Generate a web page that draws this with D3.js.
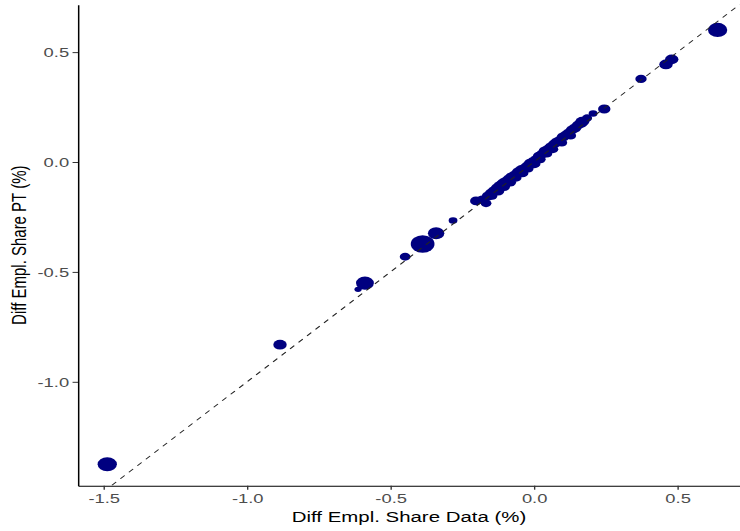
<!DOCTYPE html>
<html>
<head>
<meta charset="utf-8">
<script src="https://cdn.jsdelivr.net/npm/d3@7"></script>
<style>
  html, body { margin: 0; padding: 0; background: #ffffff; }
  svg { display: block; }
</style>
</head>
<body>
<div id="chart"></div>
<script>
// ---- data ----
const xVals = [
  0.640, 0.460, 0.480, 0.373, 0.245, 0.206,
  -0.202, -0.167, -0.282, -0.341, -0.388, -0.449, -0.589, -0.613, -0.885, -1.487,
  -0.180, -0.160, -0.150, -0.146, -0.139, -0.129, -0.125, -0.118, -0.108, -0.104,
  -0.098, -0.087, -0.083, -0.077, -0.066, -0.062, -0.056, -0.045, -0.040, -0.035,
  -0.024, -0.020, -0.014, -0.003, 0.002, 0.007, 0.017, 0.022, 0.028, 0.038,
  0.045, 0.049, 0.059, 0.066, 0.070, 0.080, 0.091, 0.097, 0.101, 0.111,
  0.122, 0.128, 0.132, 0.143, 0.153, 0.164, 0.168, 0.174, 0.185
];
const yVals = [
  0.601, 0.444, 0.467, 0.378, 0.241, 0.221,
  -0.177, -0.188, -0.266, -0.324, -0.373, -0.431, -0.551, -0.579, -0.831, -1.375,
  -0.170, -0.155, -0.141, -0.154, -0.132, -0.118, -0.132, -0.109, -0.096, -0.112,
  -0.091, -0.077, -0.092, -0.068, -0.059, -0.072, -0.045, -0.036, -0.050, -0.027,
  -0.018, -0.030, -0.005, 0.005, -0.008, 0.014, 0.027, 0.012, 0.036, 0.050,
  0.038, 0.059, 0.068, 0.058, 0.082, 0.091, 0.100, 0.088, 0.114, 0.123,
  0.132, 0.120, 0.146, 0.155, 0.168, 0.177, 0.183, 0.187, 0.200
];
const weights = [
  58, 28, 28, 20, 24, 12,
  22, 18, 12, 42, 88, 18, 50, 8, 28, 58,
  18, 24, 22, 18, 26, 22, 24, 28, 24, 22,
  28, 24, 22, 26, 24, 18, 22, 24, 22, 18,
  22, 18, 22, 18, 22, 18, 22, 18, 22, 24,
  18, 22, 24, 18, 22, 24, 22, 18, 24, 22,
  24, 18, 22, 24, 22, 26, 28, 20, 16
];
const xTicks = [-1.5, -1.0, -0.5, 0.0, 0.5];
const xTickLabels = ["-1.5", "-1.0", "-0.5", "0.0", "0.5"];
const yTicks = [-1.0, -0.5, 0.0, 0.5];
const yTickLabels = ["-1.0", "-0.5", "0.0", "0.5"];
const xTitle = "Diff Empl. Share Data (%)";
const yTitle = "Diff Empl. Share PT (%)";

// ---- layout ----
const W = 740, H = 531;
const S = 1.362;              // horizontal stretch of the original picture
const VW = W / S;             // unstretched drawing width
const pLeft = 78 / S, pRight = 740 / S, pTop = 4.7, pBottom = 485.7;

const svg = d3.select("#chart").append("svg")
  .attr("width", W).attr("height", H)
  .attr("viewBox", `0 0 ${VW} ${H}`)
  .attr("preserveAspectRatio", "none");

svg.append("rect").attr("x", 0).attr("y", 0).attr("width", VW).attr("height", H).attr("fill", "#fff");

const x = d3.scaleLinear().domain([-1.589, 0.718]).range([pLeft, pRight]);
const y = d3.scaleLinear().domain([-1.4727, 0.7157]).range([pBottom, pTop]);
const r = d3.scaleSqrt().domain([0, 100]).range([0, 9.3]);

svg.append("defs").append("clipPath").attr("id", "panel")
  .append("rect").attr("x", pLeft).attr("y", pTop)
  .attr("width", pRight - pLeft).attr("height", pBottom - pTop);

const pts = xVals.map((v, i) => ({ x: v, y: yVals[i], w: weights[i] }));

svg.append("g").attr("clip-path", "url(#panel)")
  .selectAll("circle").data(pts).join("circle")
  .attr("cx", d => x(d.x)).attr("cy", d => y(d.y)).attr("r", d => r(d.w))
  .attr("fill", "#000080");

// 45-degree reference line
const lo = Math.min(x.domain()[0], y.domain()[0]), hi = Math.max(x.domain()[1], y.domain()[1]);
svg.append("g").attr("clip-path", "url(#panel)")
  .append("line")
  .attr("x1", x(lo)).attr("y1", y(lo)).attr("x2", x(hi)).attr("y2", y(hi))
  .attr("stroke", "#222").attr("stroke-width", 0.9).attr("stroke-dasharray", "4.5,4.5");

const font = "'Liberation Sans', Arial, Helvetica, sans-serif";

const xAxis = svg.append("g").attr("transform", `translate(0,${pBottom})`)
  .call(d3.axisBottom(x).tickValues(xTicks).tickFormat((d, i) => xTickLabels[i])
    .tickSize(4).tickPadding(4).tickSizeOuter(0));
const yAxis = svg.append("g").attr("transform", `translate(${pLeft},0)`)
  .call(d3.axisLeft(y).tickValues(yTicks).tickFormat((d, i) => yTickLabels[i])
    .tickSize(4).tickPadding(2.5).tickSizeOuter(0));

[xAxis, yAxis].forEach(g => {
  g.select(".domain").attr("stroke", "#000").attr("stroke-width", 1.1);
  g.selectAll(".tick line").attr("stroke", "#333").attr("stroke-width", 1);
  g.selectAll(".tick text").attr("fill", "#4d4d4d")
    .style("font-family", font).style("font-size", "13.5px");
});

svg.append("text")
  .attr("x", (pLeft + pRight) / 2).attr("y", 522)
  .attr("text-anchor", "middle")
  .style("font-family", font).style("font-size", "15px").attr("fill", "#000")
  .text(xTitle);

svg.append("text")
  .attr("transform", `translate(${25.5 / S},${(pTop + pBottom) / 2}) rotate(-90)`)
  .attr("text-anchor", "middle")
  .style("font-family", font).style("font-size", "15px").attr("fill", "#000")
  .text(yTitle);
</script>
</body>
</html>
